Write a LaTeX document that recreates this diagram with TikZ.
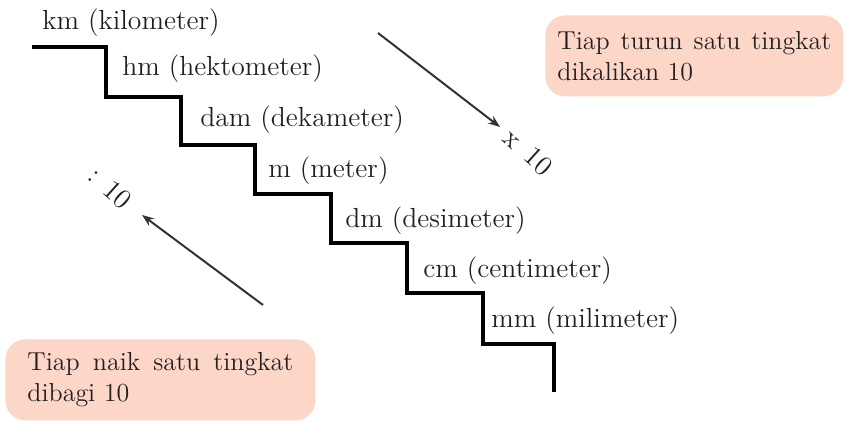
\documentclass[tikz,border=0pt]{standalone}
\usetikzlibrary{arrows.meta}
\definecolor{peach}{HTML}{FCD6C6}
\definecolor{inkgray}{HTML}{231F20}
\definecolor{arrowgray}{HTML}{333333}

\tikzset{
  unitlabel/.style={anchor=base west, inner sep=0pt, text=inkgray, font=\fontsize{13.8}{16}\selectfont},
  notebox/.style={fill=peach, rounded corners=10pt, anchor=north west, text=inkgray,
    align=justify, inner xsep=8pt, minimum height=40.5pt, font=\fontsize{13}{15.5}\selectfont},
  factorlabel/.style={text=inkgray, inner sep=0pt, rotate=-42, font=\fontsize{14}{16}\selectfont},
  steparrow/.style={->, arrowgray, line width=1pt}
}

\begin{document}
\begin{tikzpicture}[x=0.5pt, y=-0.5pt, >={Stealth[length=6pt, width=4.5pt]}]

\useasboundingbox (0,0) rectangle (846,421);

% Staircase
\draw[black, line width=1.7pt] (32,47) -- (106,47) -- (106,97) -- (181,97) -- (181,145)
  -- (255,145) -- (255,194) -- (331,194) -- (331,243) -- (407,243) -- (407,293)
  -- (483,293) -- (483,344) -- (554,344) -- (554,392);

% --- Unit labels on the steps ---
\node[unitlabel] (km) at (42,30) {km (kilometer)};
\node[unitlabel] (hm) at (122,76) {hm (hektometer)};
\node[unitlabel] (dam) at (200,127) {dam (dekameter)};
\node[unitlabel] (m) at (268,178) {m (meter)};
\node[unitlabel] (dm) at (345,228) {dm (desimeter)};
\node[unitlabel] (cm) at (423,278) {cm (centimeter)};
\node[unitlabel] (mm) at (491,328) {mm (milimeter)};

% --- Going down: multiply ---
\coordinate (downstart) at (378,33);
\coordinate (downtip) at (500,127);
\draw[steparrow] (downstart) -- (downtip);
\node[factorlabel] (times) at (528,152) {x\ \,10};

\node[notebox, text width=137pt, inner xsep=6pt] (turunnote) at (545,15)
  {Tiap turun satu tingkat dikalikan 10};

% --- Going up: divide ---
\coordinate (upstart) at (263,305);
\coordinate (uptip) at (142,215);
\draw[steparrow] (upstart) -- (uptip);
\node[factorlabel] (divide) at (110,188) {: 10};

\node[notebox, text width=133pt, inner xsep=11pt] (naiknote) at (5,339)
  {Tiap naik satu tingkat dibagi 10};

\end{tikzpicture}
\end{document}
